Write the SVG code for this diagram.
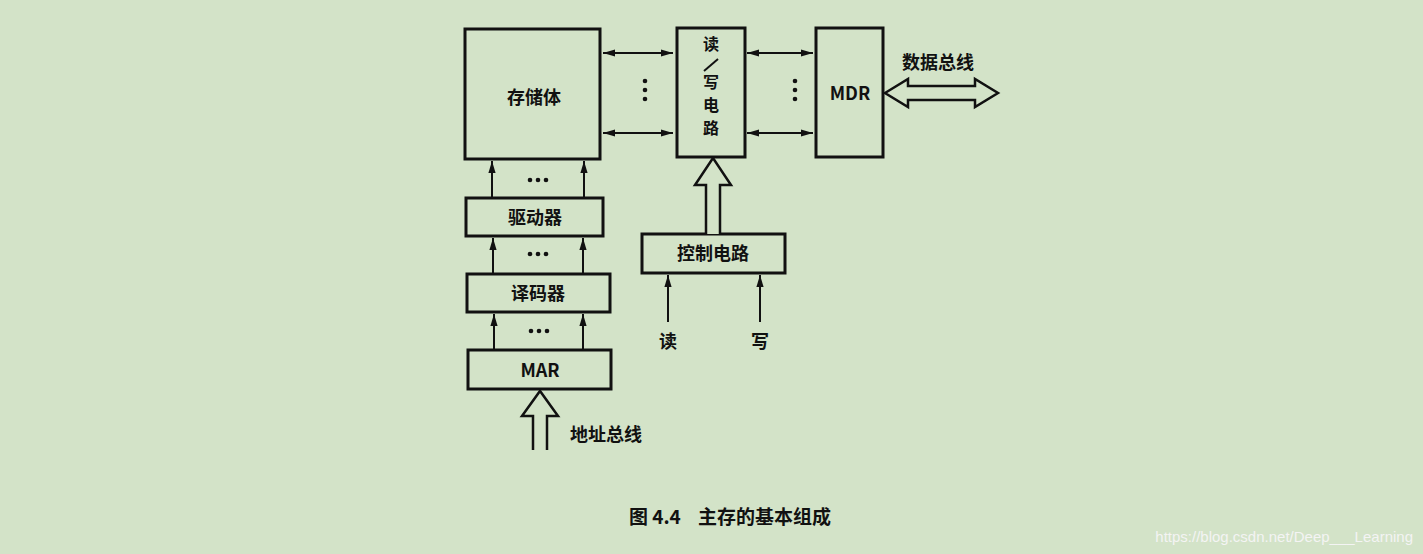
<svg xmlns="http://www.w3.org/2000/svg" width="1423" height="554" viewBox="0 0 1423 554">
<style>
.b{fill:none;stroke:#111;stroke-width:3}
.h{fill:#d3e3c8;stroke:#111;stroke-width:2.5}
.l{stroke:#111;stroke-width:2;fill:none}
.t{font-family:"Noto Sans CJK SC","Liberation Serif",serif;font-weight:bold;fill:#111;text-anchor:middle}
.d{fill:#111}
</style>
<defs>
<marker id="a" viewBox="0 0 10 10" refX="10" refY="5" markerWidth="6" markerHeight="6" orient="auto-start-reverse"><path d="M0,2 L10,5 L0,8 Z" fill="#111"/></marker>
</defs>
<rect width="1423" height="554" fill="#d3e3c8"/>
<g id="storage"><rect class="b" x="465" y="29" width="135" height="130"/><text class="t" x="534" y="104" font-size="18">存储体</text></g>
<g id="rw"><rect class="b" x="677" y="28" width="68" height="129"/><text class="t" x="711" y="50" font-size="16">读</text><path class="l" d="M704,71 L718,59"/><text class="t" font-size="16"><tspan x="711" y="88">写</tspan><tspan x="711" y="111">电</tspan><tspan x="711" y="134">路</tspan></text></g>
<g id="mdr"><rect class="b" x="816" y="28" width="67" height="129"/><text class="t" x="850" y="100" font-size="18" font-family="Liberation Serif">MDR</text></g>
<g id="driver"><rect class="b" x="466" y="198" width="137" height="38"/><text class="t" x="535" y="224" font-size="18">驱动器</text></g>
<g id="decoder"><rect class="b" x="467" y="274" width="143" height="38"/><text class="t" x="538" y="300" font-size="18">译码器</text></g>
<g id="mar"><rect class="b" x="468" y="350" width="143" height="39"/><text class="t" x="540" y="377" font-size="18" font-family="Liberation Serif">MAR</text></g>
<g id="control"><rect class="b" x="642" y="234" width="143" height="39"/><text class="t" x="713" y="260" font-size="18">控制电路</text></g>
<g id="connectors">
<line class="l" x1="603" y1="53" x2="673" y2="53" marker-start="url(#a)" marker-end="url(#a)"/>
<line class="l" x1="603" y1="133" x2="673" y2="133" marker-start="url(#a)" marker-end="url(#a)"/>
<line class="l" x1="747" y1="53" x2="813" y2="53" marker-start="url(#a)" marker-end="url(#a)"/>
<line class="l" x1="747" y1="133" x2="813" y2="133" marker-start="url(#a)" marker-end="url(#a)"/>
<line class="l" x1="492" y1="198" x2="492" y2="161" marker-end="url(#a)"/>
<line class="l" x1="584" y1="198" x2="584" y2="161" marker-end="url(#a)"/>
<line class="l" x1="493" y1="274" x2="493" y2="238" marker-end="url(#a)"/>
<line class="l" x1="583" y1="274" x2="583" y2="238" marker-end="url(#a)"/>
<line class="l" x1="494" y1="350" x2="494" y2="314" marker-end="url(#a)"/>
<line class="l" x1="583" y1="350" x2="583" y2="314" marker-end="url(#a)"/>
<line class="l" x1="668" y1="322" x2="668" y2="275" marker-end="url(#a)"/>
<line class="l" x1="760" y1="322" x2="760" y2="275" marker-end="url(#a)"/>
<path class="h" d="M706,234 L706,185 L695,185 L713,158 L731,185 L720,185 L720,234"/>
<path class="h" d="M533,450 L533,416 L522,416 L540,391 L558,416 L547,416 L547,450"/>
<path class="h" d="M885,93 L908,79 L908,86 L975,86 L975,79 L998,93 L975,107 L975,100 L908,100 L908,107 Z"/>
</g>
<g class="d">
<circle cx="645" cy="81" r="2.3"/><circle cx="645" cy="90" r="2.3"/><circle cx="645" cy="99" r="2.3"/>
<circle cx="795" cy="81" r="2.3"/><circle cx="795" cy="90" r="2.3"/><circle cx="795" cy="99" r="2.3"/>
<circle cx="530" cy="180" r="2.3"/><circle cx="538" cy="180" r="2.3"/><circle cx="546" cy="180" r="2.3"/>
<circle cx="530" cy="254" r="2.3"/><circle cx="538" cy="254" r="2.3"/><circle cx="546" cy="254" r="2.3"/>
<circle cx="531" cy="331" r="2.3"/><circle cx="539" cy="331" r="2.3"/><circle cx="547" cy="331" r="2.3"/>
</g>
<text class="t" x="938" y="69" font-size="18">数据总线</text>
<text class="t" x="668" y="348" font-size="18">读</text>
<text class="t" x="760" y="348" font-size="18">写</text>
<text class="t" x="606" y="441" font-size="18">地址总线</text>
<text class="t" x="730" y="524" font-size="19" xml:space="preserve">图 4.4    主存的基本组成</text>
<text x="1413" y="542" font-size="15" font-family="Liberation Sans,sans-serif" fill="#f4f4f4" text-anchor="end">https://blog.csdn.net/Deep___Learning</text>
</svg>
